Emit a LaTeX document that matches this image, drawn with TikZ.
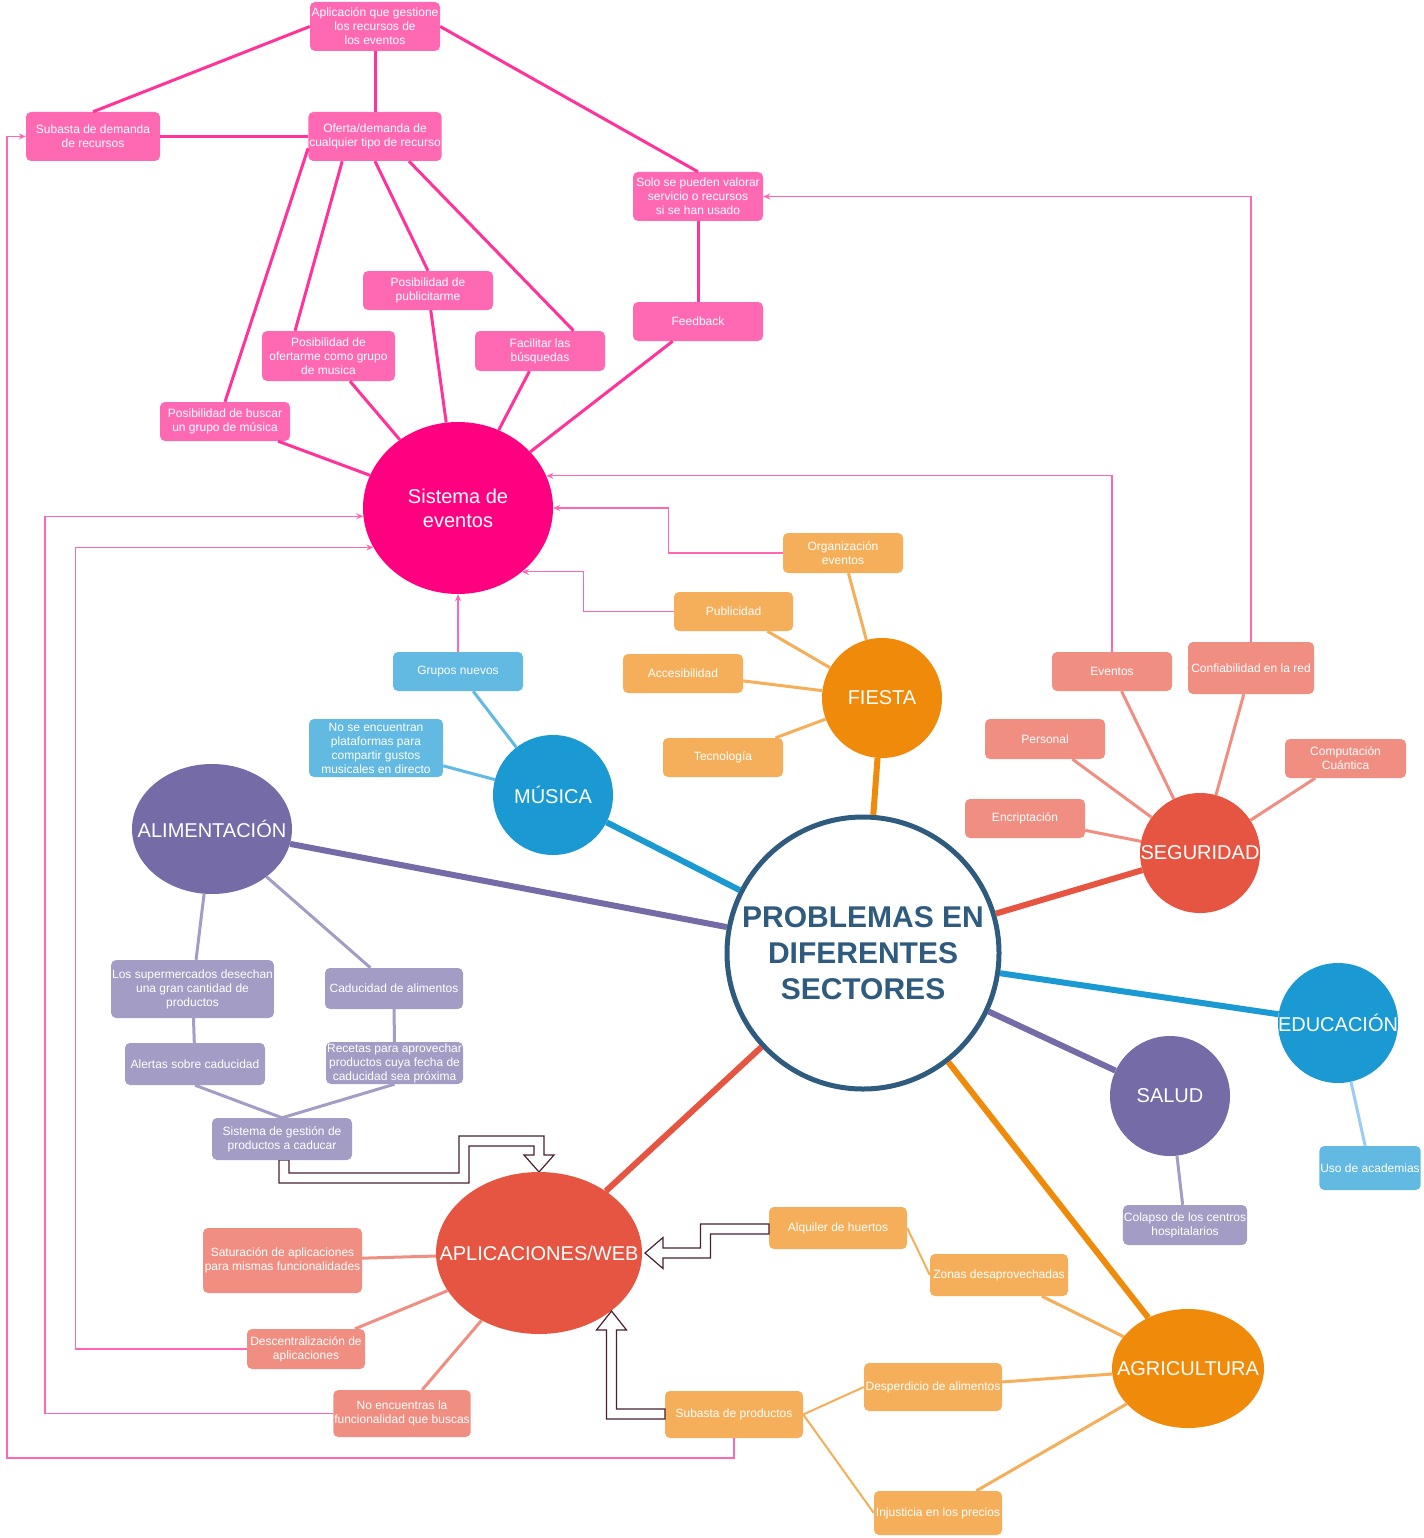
\documentclass[tikz,border=0pt]{standalone}
\usepackage{fontspec}
\setmainfont{Liberation Sans}
\usetikzlibrary{shapes.geometric,arrows.meta}
\definecolor{pinkbox}{HTML}{FF69B4}
\definecolor{pinkline}{HTML}{FF3399}
\definecolor{magentac}{HTML}{FF0080}
\definecolor{linkpink}{HTML}{FF66B3}
\definecolor{orangebox}{HTML}{F5AF5A}
\definecolor{orangec}{HTML}{F08A0A}
\definecolor{bluec}{HTML}{1A99D3}
\definecolor{lightblue}{HTML}{62B9E1}
\definecolor{palebluel}{HTML}{9CCCF4}
\definecolor{purplec}{HTML}{746BA7}
\definecolor{purplebox}{HTML}{A39DC6}
\definecolor{redc}{HTML}{E65541}
\definecolor{salmon}{HTML}{F08E82}
\definecolor{navy}{HTML}{2E5B7E}
\definecolor{blkborder}{HTML}{4A1F33}
\newcommand{\zw}[1]{\makebox[0pt]{#1}}
\begin{document}
\begin{tikzpicture}[x=1pt,y=-1pt,
  box/.style={rectangle, rounded corners=5pt, inner sep=1pt, text=white, align=center, font=\fontsize{12}{14}\selectfont},
  pbox/.style={box, fill=pinkbox},
  obox/.style={box, fill=orangebox},
  bbox/.style={box, fill=lightblue},
  vbox/.style={box, fill=purplebox},
  sbox/.style={box, fill=salmon},
  circ/.style={ellipse, inner sep=0pt, text=white, align=center, font=\fontsize{20}{24}\selectfont},
  pl/.style={draw=pinkline, line width=3pt},
  sat/.style={draw=#1, line width=3pt},
  cl/.style={draw=#1, line width=6pt},
  link/.style={draw=linkpink, line width=1.2pt, -{Stealth[length=7pt,width=6pt]}},
  blk/.style={draw=blkborder, fill=white, line width=1.2pt, line join=miter},
]
\useasboundingbox[fill=white] (0,0) rectangle (1423,1538);

% ---------- nodes: Sistema de eventos cluster ----------
\node[pbox, minimum width=130pt, minimum height=49pt] (A) at (375,26.5) {Aplicación que gestione\\los recursos de\\los eventos};
\node[pbox, minimum width=134pt, minimum height=49pt] (B) at (93,136.5) {Subasta de demanda\\de recursos};
\node[pbox, minimum width=132pt, minimum height=49pt] (C) at (375,136.5) {Oferta/demanda de\\cualquier tipo de recurso};
\node[pbox, minimum width=130pt, minimum height=49pt] (D) at (698,196.5) {Solo se pueden valorar\\servicio o recursos\\si se han usado};
\node[pbox, minimum width=130pt, minimum height=39pt] (E) at (698,321.5) {Feedback};
\node[pbox, minimum width=130pt, minimum height=39pt] (F) at (428,290.5) {Posibilidad de\\publicitarme};
\node[pbox, minimum width=133pt, minimum height=50pt] (G) at (328.5,356) {Posibilidad de\\ofertarme como grupo\\de musica};
\node[pbox, minimum width=130pt, minimum height=40pt] (H) at (540,351) {Facilitar las\\búsquedas};
\node[pbox, minimum width=130pt, minimum height=39pt] (I) at (225,421.5) {Posibilidad de buscar\\un grupo de música};
\node[circ, fill=magentac, minimum width=190pt, minimum height=172pt] (S) at (458,508) {Sistema de\\eventos};

% ---------- central node ----------
\node[ellipse, inner sep=0pt, draw=navy, line width=5pt, fill=white, minimum width=272pt, minimum height=272pt, text=navy, align=center, font=\bfseries\fontsize{30}{36}\selectfont] (P) at (863,953) {\zw{PROBLEMAS EN}\\\zw{DIFERENTES}\\\zw{SECTORES}};

% ---------- FIESTA ----------
\node[circ, fill=orangec, minimum width=120pt, minimum height=120pt] (Fi) at (882,698) {\zw{FIESTA}};
\node[obox, minimum width=120pt, minimum height=40pt] (Org) at (843,553) {Organización\\eventos};
\node[obox, minimum width=119pt, minimum height=39pt] (Pub) at (733.5,611.5) {Publicidad};
\node[obox, minimum width=120pt, minimum height=39pt] (Acc) at (683,673.5) {Accesibilidad};
\node[obox, minimum width=120pt, minimum height=39pt] (Tec) at (723,757.5) {Tecnología};

% ---------- MUSICA ----------
\node[circ, fill=bluec, minimum width=120pt, minimum height=120pt] (Mu) at (553,795) {\zw{MÚSICA}};
\node[bbox, minimum width=130pt, minimum height=39pt] (Gr) at (458,671.5) {Grupos nuevos};
\node[bbox, minimum width=134pt, minimum height=58pt] (NoSe) at (376,748) {No se encuentran\\plataformas para\\compartir gustos\\musicales en directo};

% ---------- ALIMENTACION ----------
\node[circ, fill=purplec, minimum width=160pt, minimum height=130pt] (Al) at (212,829) {\zw{ALIMENTACIÓN}};
\node[vbox, minimum width=161pt, minimum height=58pt] (Sup) at (192.5,989) {Los supermercados desechan\\una gran cantidad de\\productos};
\node[vbox, minimum width=138pt, minimum height=41pt] (Cad) at (394,988.5) {Caducidad de alimentos};
\node[vbox, minimum width=140pt, minimum height=42pt] (Ale) at (195,1064) {Alertas sobre caducidad};
\node[vbox, minimum width=137pt, minimum height=42pt] (Rec) at (394.5,1063) {Recetas para aprovechar\\productos cuya fecha de\\caducidad sea próxima};

% ---------- block arrow 1 (behind SGP) ----------
\draw[blk] (279,1160) -- (279,1183) -- (469,1183) -- (469,1146) -- (534,1146) -- (534,1155) -- (524,1155) -- (539,1172) -- (554,1155) -- (544,1155) -- (544,1136) -- (459,1136) -- (459,1173) -- (289,1173) -- (289,1160) -- cycle;
\node[vbox, minimum width=140pt, minimum height=42pt] (SGP) at (282,1139) {Sistema de gestión de\\productos a caducar};

% ---------- APLICACIONES/WEB ----------
\node[circ, fill=redc, minimum width=206pt, minimum height=162pt] (App) at (539,1253) {\zw{APLICACIONES/WEB}};
\node[sbox, minimum width=159pt, minimum height=65pt] (Sat) at (282.5,1260.5) {Saturación de aplicaciones\\para mismas funcionalidades};
\node[sbox, minimum width=118pt, minimum height=40pt] (Desc) at (306,1349) {Descentralización de\\aplicaciones};
\node[sbox, minimum width=136pt, minimum height=47pt] (NoE) at (402,1413.5) {No encuentras la\\funcionalidad que buscas};

% ---------- SEGURIDAD ----------
\node[circ, fill=redc, minimum width=120pt, minimum height=120pt] (Seg) at (1200,853) {\zw{SEGURIDAD}};
\node[sbox, minimum width=120pt, minimum height=39pt] (Ev) at (1112,671.5) {Eventos};
\node[sbox, minimum width=126pt, minimum height=52pt] (Conf) at (1251,668) {Confiabilidad en la red};
\node[sbox, minimum width=120pt, minimum height=40pt] (Pers) at (1045,739) {Personal};
\node[sbox, minimum width=121pt, minimum height=39pt] (Comp) at (1345.5,758.5) {Computación\\Cuántica};
\node[sbox, minimum width=120pt, minimum height=39pt] (Enc) at (1025,818.5) {Encriptación};

% ---------- EDUCACION / SALUD ----------
\node[circ, fill=bluec, minimum width=120pt, minimum height=120pt] (Edu) at (1338,1023) {\zw{EDUCACIÓN}};
\node[bbox, minimum width=100pt, minimum height=44pt] (Uso) at (1370,1168) {Uso de academias};
\node[circ, fill=purplec, minimum width=120pt, minimum height=120pt] (Sal) at (1170,1096) {\zw{SALUD}};
\node[vbox, minimum width=120pt, minimum height=40pt] (Col) at (1185,1225) {Colapso de los centros\\hospitalarios};

% ---------- AGRICULTURA ----------
\node[circ, fill=orangec, minimum width=152pt, minimum height=119pt] (Agr) at (1188,1368.5) {\zw{AGRICULTURA}};
\node[obox, minimum width=138pt, minimum height=42pt] (Alq) at (838,1228) {Alquiler de huertos};
\node[obox, minimum width=138pt, minimum height=42pt] (Zon) at (999,1275) {Zonas desaprovechadas};
\node[obox, minimum width=138pt, minimum height=48pt] (Desp) at (933,1387) {Desperdicio de alimentos};
\node[obox, minimum width=138pt, minimum height=47pt] (SubP) at (734,1414.5) {Subasta de productos};
\node[obox, minimum width=128pt, minimum height=44pt] (Inj) at (938,1513) {Injusticia en los precios};

% ---------- thin pink arrows ----------
\coordinate (c1) at (7,1458);
\draw[link] (Conf.north) |- (D.east);
\draw[link] (Ev.north) |- (S.20);
\draw[link] (Org.west) -- ++(-114,0) |- (S.east);
\draw[link] (Pub.west) -- ++(-90,0) |- (S.-45);
\draw[link] (Gr.north) -- (S.south);
\draw[link] (Desc.west) -- ++(-171,0) |- (S.205);
\draw[link] (NoE.west) -- ++(-288,0) |- (S.185);
\draw[link] (SubP.south) |- (c1) |- (B.west);

% ---------- pink edges ----------
\draw[pl] (A.west) -- (B.north);
\draw[pl] (A) -- (C);
\draw[pl] (A.east) -- (D.north);
\draw[pl] (B) -- (C);
\draw[pl] (C.190) -- (I.north);
\draw[pl] (C.217) -- (G.143);
\draw[pl] (C.south) -- (F.north);
\draw[pl] (C.-36) -- (H.31);
\draw[pl] (D) -- (E);
\draw[pl] (E) -- (S);
\draw[pl] (F) -- (S);
\draw[pl] (G) -- (S);
\draw[pl] (H) -- (S);
\draw[pl] (I) -- (S);

% ---------- sector edges to centre ----------
\draw[cl=orangec] (Fi) -- (P);
\draw[cl=bluec] (Mu) -- (P);
\draw[cl=purplec] (Al) -- (P);
\draw[cl=redc] (Seg) -- (P);
\draw[cl=bluec] (Edu) -- (P);
\draw[cl=purplec] (Sal) -- (P);
\draw[cl=orangec] (Agr) -- (P);
\draw[cl=redc] (App) -- (P);

% ---------- satellite edges ----------
\draw[sat=orangebox] (Org) -- (Fi);
\draw[sat=orangebox] (Pub) -- (Fi);
\draw[sat=orangebox] (Acc) -- (Fi);
\draw[sat=orangebox] (Tec) -- (Fi);
\draw[sat=lightblue] (Gr) -- (Mu);
\draw[sat=lightblue] (NoSe) -- (Mu);
\draw[sat=purplebox] (Al) -- (Sup);
\draw[sat=purplebox] (Al) -- (Cad);
\draw[sat=purplebox] (Sup) -- (Ale);
\draw[sat=purplebox] (Cad) -- (Rec);
\draw[sat=purplebox] (Ale.south) -- (SGP.north);
\draw[sat=purplebox] (Rec.south) -- (SGP.north);
\draw[sat=salmon] (Sat) -- (App);
\draw[sat=salmon] (Desc) -- (App);
\draw[sat=salmon] (NoE) -- (App);
\draw[sat=salmon] (Ev) -- (Seg);
\draw[sat=salmon] (Conf) -- (Seg);
\draw[sat=salmon] (Pers) -- (Seg);
\draw[sat=salmon] (Comp) -- (Seg);
\draw[sat=salmon] (Enc) -- (Seg);
\draw[sat=palebluel] (Edu) -- (Uso);
\draw[sat=purplebox] (Sal) -- (Col);
\draw[draw=orangebox, line width=2pt] (Alq.east) -- (Zon.west);
\draw[sat=orangebox] (Zon) -- (Agr);
\draw[sat=orangebox] (Desp) -- (Agr);
\draw[sat=orangebox] (Inj) -- (Agr);
\draw[draw=orangebox, line width=2pt] (SubP.east) -- (Desp.west);
\draw[draw=orangebox, line width=2pt] (SubP.east) -- (Inj.west);

% ---------- block arrows 2 and 3 ----------
\draw[blk] (769,1224) -- (700.5,1224) -- (700.5,1248) -- (663,1248) -- (663,1237.5) -- (645,1253) -- (663,1268.5) -- (663,1258) -- (710.5,1258) -- (710.5,1234) -- (769,1234) -- cycle;
\draw[blk] (665,1419) -- (606.5,1419) -- (606.5,1330) -- (596.5,1330) -- (611.5,1311) -- (626.5,1330) -- (616.5,1330) -- (616.5,1409) -- (665,1409) -- cycle;
\end{tikzpicture}
\end{document}
